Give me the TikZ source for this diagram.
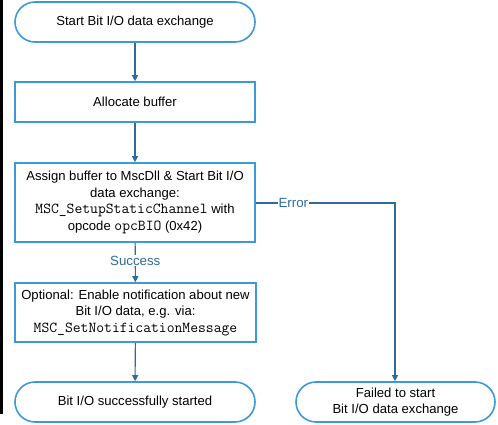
\documentclass[tikz,border=0pt]{standalone}
\usepackage{fontspec}
\setmainfont{Liberation Sans}
\usetikzlibrary{arrows.meta}
\definecolor{boxblue}{RGB}{62,152,220}
\definecolor{linkblue}{RGB}{46,108,158}
\tikzset{
  base/.style={draw=boxblue, line width=1.6pt, fill=white, align=center, inner sep=0pt,
    font=\fontsize{13.1}{16.5}\selectfont, text=black},
  term/.style={base, rounded corners=20pt, minimum height=40pt},
  proc/.style={base},
  conn/.style={draw=linkblue, line width=1.1pt, -{Triangle[length=6pt,width=6pt]}},
  lbl/.style={fill=white, text=linkblue, font=\fontsize{13.3}{15}\selectfont, inner sep=1pt}
}
\newcommand{\mc}[1]{{\fontsize{15.2}{16.5}\selectfont\ttfamily #1}}
\begin{document}
\begin{tikzpicture}[x=1pt,y=-1pt]
\useasboundingbox (0,0) rectangle (498,425);
\fill[black] (0,0) rectangle (3,414);
\node[term, minimum width=240pt] (start) at (135,22) {Start Bit I/O data exchange};
\node[proc, minimum width=240pt, minimum height=40pt] (alloc) at (135,102) {Allocate buffer};
\node[proc, minimum width=240pt, minimum height=79pt] (assign) at (135,202.5)
  {Assign buffer to MscDll \& Start Bit I/O\\data exchange:\\\mc{MSC\_SetupStaticChannel} with\\opcode \mc{opcBIO} (0x42)};
\node[proc, minimum width=241pt, minimum height=59pt] (opt) at (135.5,312.5)
  {Optional: Enable notification about new\\Bit I/O data, e.g. via:\\\mc{MSC\_SetNotificationMessage}};
\node[term, minimum width=240pt] (ok) at (135,402) {Bit I/O successfully started};
\node[term, minimum width=199pt] (fail) at (395.5,402) {Failed to start\\Bit I/O data exchange};
\coordinate (corner) at (395,203);
\draw[conn] (start) -- (alloc);
\draw[conn] (alloc) -- (assign);
\draw[conn] (assign) -- node[lbl, pos=0.45] (succ) {Success} (opt);
\draw[conn] (opt) -- (ok);
\draw[conn] (assign.east |- corner) -- node[lbl, pos=0.27] (err) {Error} (corner) -- (fail.north -| corner);
\end{tikzpicture}
\end{document}
